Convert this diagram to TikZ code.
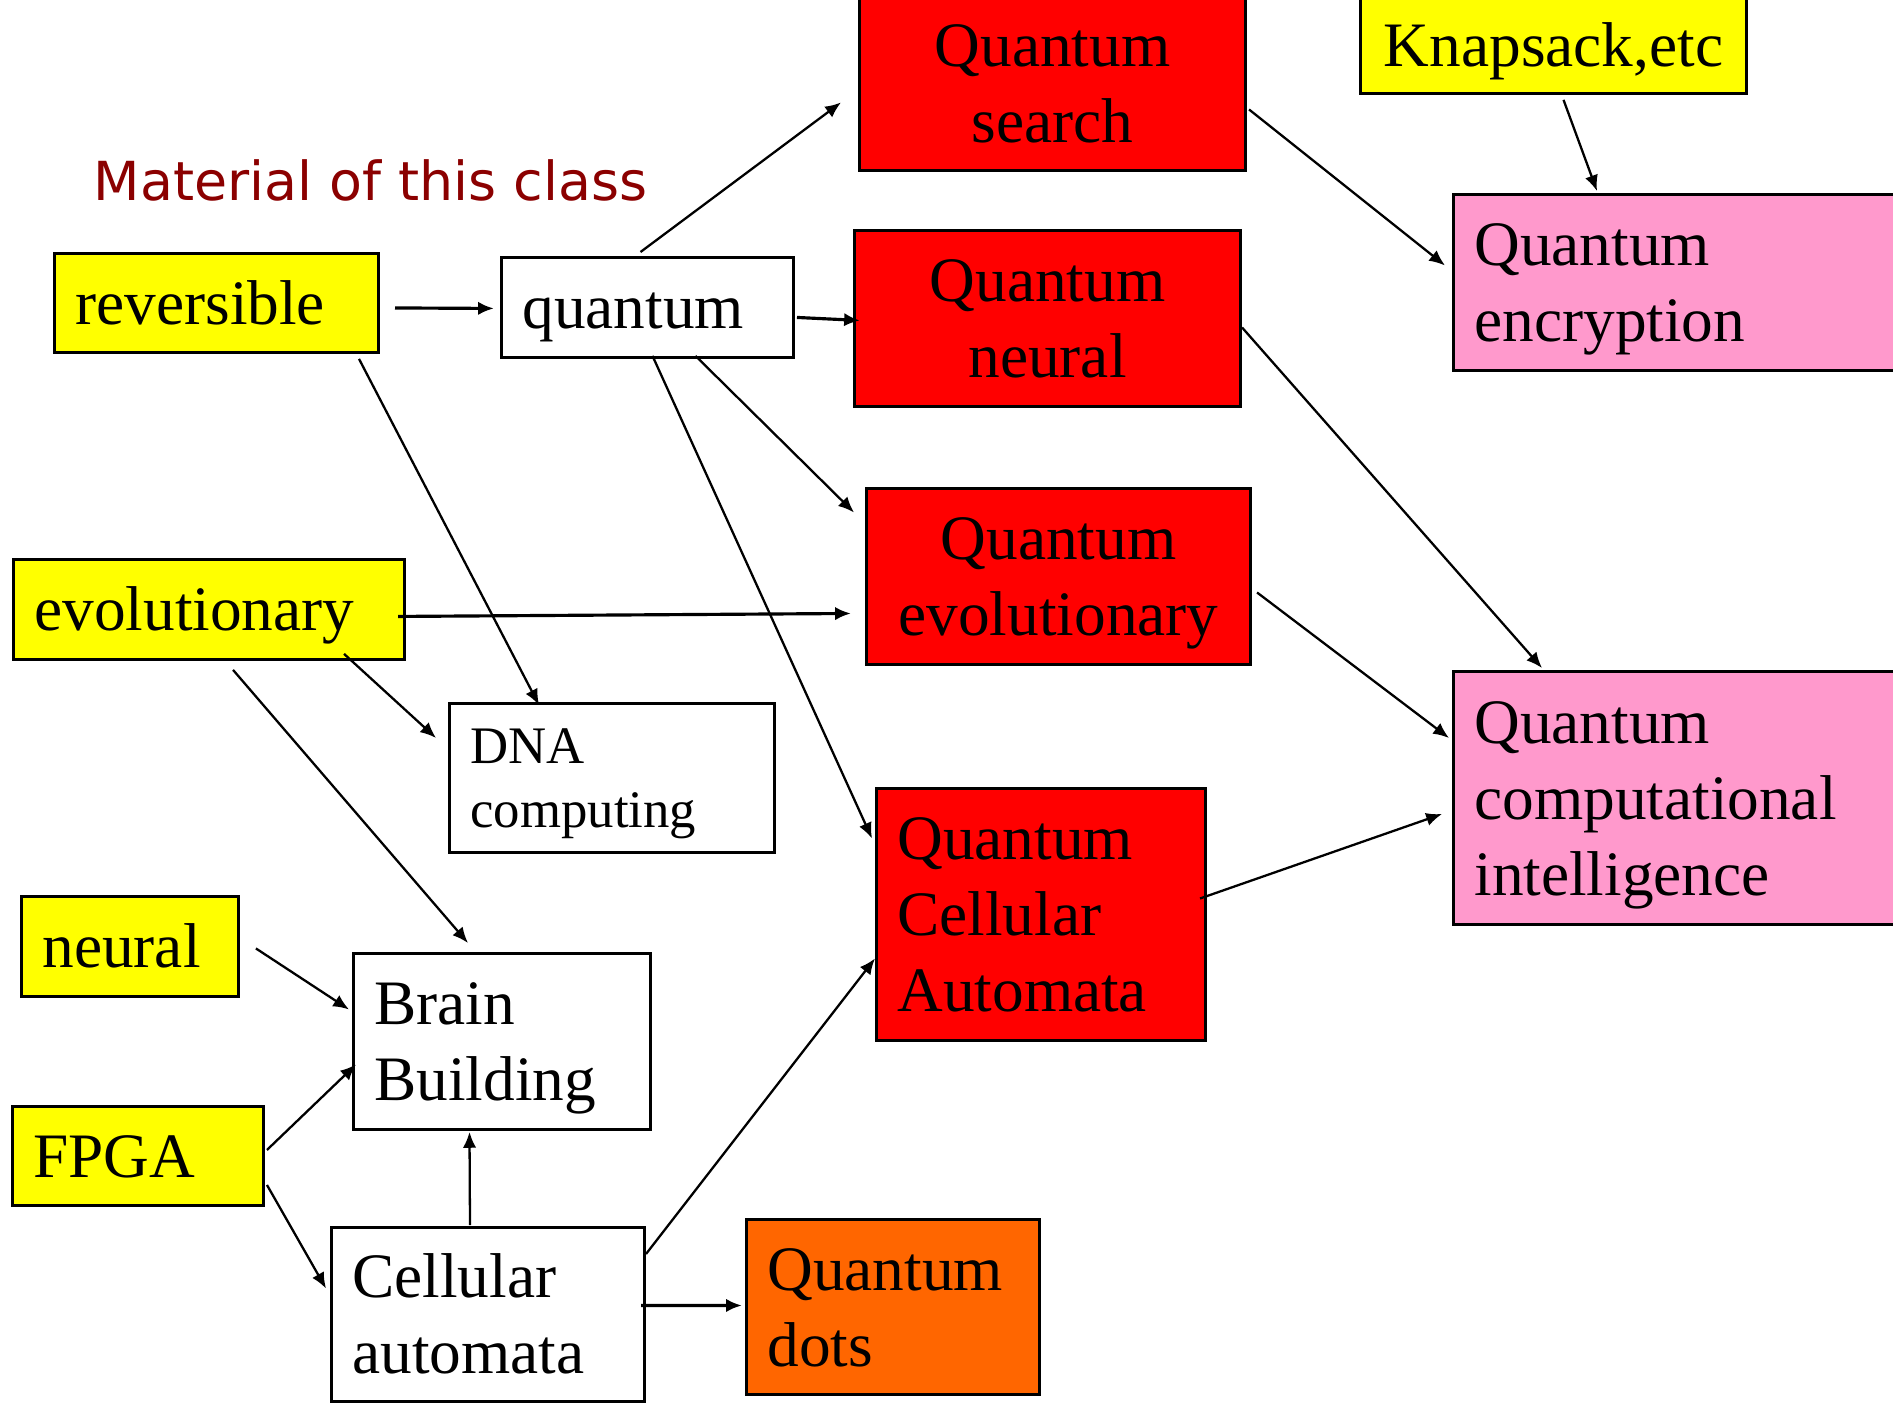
\documentclass[tikz,border=0pt]{standalone}
\usepackage{fontspec}
\setmainfont{Liberation Serif}
\newfontfamily\titlefont{DejaVu Sans}
\usetikzlibrary{arrows.meta}
\definecolor{boxyellow}{HTML}{FFFF00}
\definecolor{boxred}{HTML}{FF0000}
\definecolor{boxpink}{HTML}{FF99CC}
\definecolor{boxorange}{HTML}{FF6600}
\definecolor{titlered}{RGB}{139,0,0}
\newcommand{\mystrut}{\rule[-0.216em]{0pt}{1.107em}}
\begin{document}
\begin{tikzpicture}[x=0.01cm,y=-0.01cm,
  box/.style={draw=black,line width=0.8pt,anchor=north west,inner ysep=0pt,
              font=\fontsize{18}{21.6}\selectfont},
  lbox/.style={box,align=left,inner xsep=2.1mm},
  cbox/.style={box,align=center,inner xsep=1mm},
  dnafont/.style={font=\fontsize{15}{18.2}\selectfont},
  conn/.style={-{Latex[length=4.5pt,width=3.8pt]},line width=0.65pt},
  hconn/.style={conn,line width=0.9pt}]
\useasboundingbox (0,0) rectangle (1893,1402);
\clip (0,0) rectangle (1893,1402);

% title
\node[anchor=base west,inner sep=0pt,text=titlered,
      font=\titlefont\fontsize{15.3}{18}\selectfont] (title) at (93,200) {Material of this class};

% boxes
\node[cbox,fill=boxred,text width=36.6mm,minimum height=17.4mm] (qs) at (858,-5)
  {Quantum\mystrut\\search\mystrut};
\node[cbox,fill=boxyellow,text width=36.6mm,minimum height=9.7mm] (knap) at (1359,-5)
  {Knapsack,etc\mystrut};
\node[lbox,fill=boxyellow,text width=28.2mm,minimum height=9.9mm] (rev) at (53,252)
  {reversible\mystrut};
\node[lbox,fill=white,text width=25.0mm,minimum height=10mm] (quant) at (500,256)
  {quantum\mystrut};
\node[cbox,fill=boxred,text width=36.6mm,minimum height=17.6mm] (qn) at (853,229)
  {Quantum\mystrut\\neural\mystrut};
\node[lbox,fill=boxpink,text width=45.8mm,minimum height=17.6mm] (qenc) at (1452,193)
  {Quantum\mystrut\\encryption\mystrut};
\node[cbox,fill=boxred,text width=36.4mm,minimum height=17.6mm] (qevo) at (865,487)
  {Quantum\mystrut\\evolutionary\mystrut};
\node[lbox,fill=boxyellow,text width=34.9mm,minimum height=10mm] (evo) at (12,558)
  {evolutionary\mystrut};
\node[lbox,dnafont,fill=white,text width=28.3mm,minimum height=14.9mm] (dna) at (448,702)
  {DNA\mystrut\\computing\mystrut};
\node[lbox,fill=boxpink,text width=45.8mm,minimum height=25.3mm] (qci) at (1452,670)
  {Quantum\mystrut\\computational\mystrut\\intelligence\mystrut};
\node[lbox,fill=boxred,text width=28.7mm,minimum height=25.2mm] (qca) at (875,787)
  {Quantum\mystrut\\Cellular\mystrut\\Automata\mystrut};
\node[lbox,fill=boxyellow,text width=17.5mm,minimum height=10mm] (neural) at (20,895)
  {neural\mystrut};
\node[lbox,fill=white,text width=25.5mm,minimum height=17.6mm] (brain) at (352,952)
  {Brain\mystrut\\Building\mystrut};
\node[lbox,fill=boxyellow,text width=20.9mm,minimum height=9.9mm] (fpga) at (11,1105)
  {FPGA\mystrut};
\node[lbox,fill=white,text width=27.1mm,minimum height=17.4mm] (ca) at (330,1226)
  {Cellular\mystrut\\automata\mystrut};
\node[lbox,fill=boxorange,text width=25.1mm,minimum height=17.5mm] (qdots) at (745,1218)
  {Quantum\mystrut\\dots\mystrut};

% connectors
\draw[hconn] ([shift={(15,5)}]rev.east) -- ([shift={(-6,1)}]quant.west);
\draw[conn] ([shift={(-7,-4)}]quant.north) -- ([shift={(-17,19)}]qs.west);
\draw[hconn] ([shift={(2,10)}]quant.east) -- ([shift={(7,2)}]qn.west);
\draw[conn] ([shift={(48,-3)}]quant.south) -- ([shift={(-11,-64)}]qevo.west);
\draw[conn] ([shift={(5,-3)}]quant.south) -- ([shift={(-3,-76)}]qca.west);
\draw[conn] ([shift={(-21,5)}]rev.south east) -- ([shift={(91,3)}]dna.north west);
\draw[hconn] ([shift={(-8,7)}]evo.east) -- ([shift={(-14,37)}]qevo.west);
\draw[conn] ([shift={(-62,-7)}]evo.south east) -- ([shift={(-12,-40)}]dna.west);
\draw[conn] ([shift={(24,9)}]evo.south) -- ([shift={(-34,-9)}]brain.north);
\draw[conn] ([shift={(2,26)}]qs.east) -- ([shift={(-7,-17)}]qenc.west);
\draw[conn] ([shift={(10,5)}]knap.south) -- ([shift={(145,-2)}]qenc.north west);
\draw[conn] ([shift={(0,9)}]qn.east) -- ([shift={(90,-2)}]qci.north west);
\draw[conn] ([shift={(5,16)}]qevo.east) -- ([shift={(-3,-60)}]qci.west);
\draw[conn] ([shift={(-7,-16)}]qca.east) -- ([shift={(-10,16)}]qci.west);
\draw[conn] ([shift={(16,2)}]neural.east) -- ([shift={(-3,-32)}]brain.west);
\draw[conn] ([shift={(2,-6)}]fpga.east) -- ([shift={(4,23)}]brain.west);
\draw[conn] ([shift={(2,29)}]fpga.east) -- ([shift={(-4,-26)}]ca.west);
\draw[conn] ([shift={(-18,-1)}]ca.north) -- ([shift={(-32.5,1)}]brain.south);
\draw[conn] ([shift={(0,28)}]ca.north east) -- ([shift={(0,44)}]qca.west);
\draw[hconn] ([shift={(-5,-9)}]ca.east) -- ([shift={(-3,-1.5)}]qdots.west);
\end{tikzpicture}
\end{document}
